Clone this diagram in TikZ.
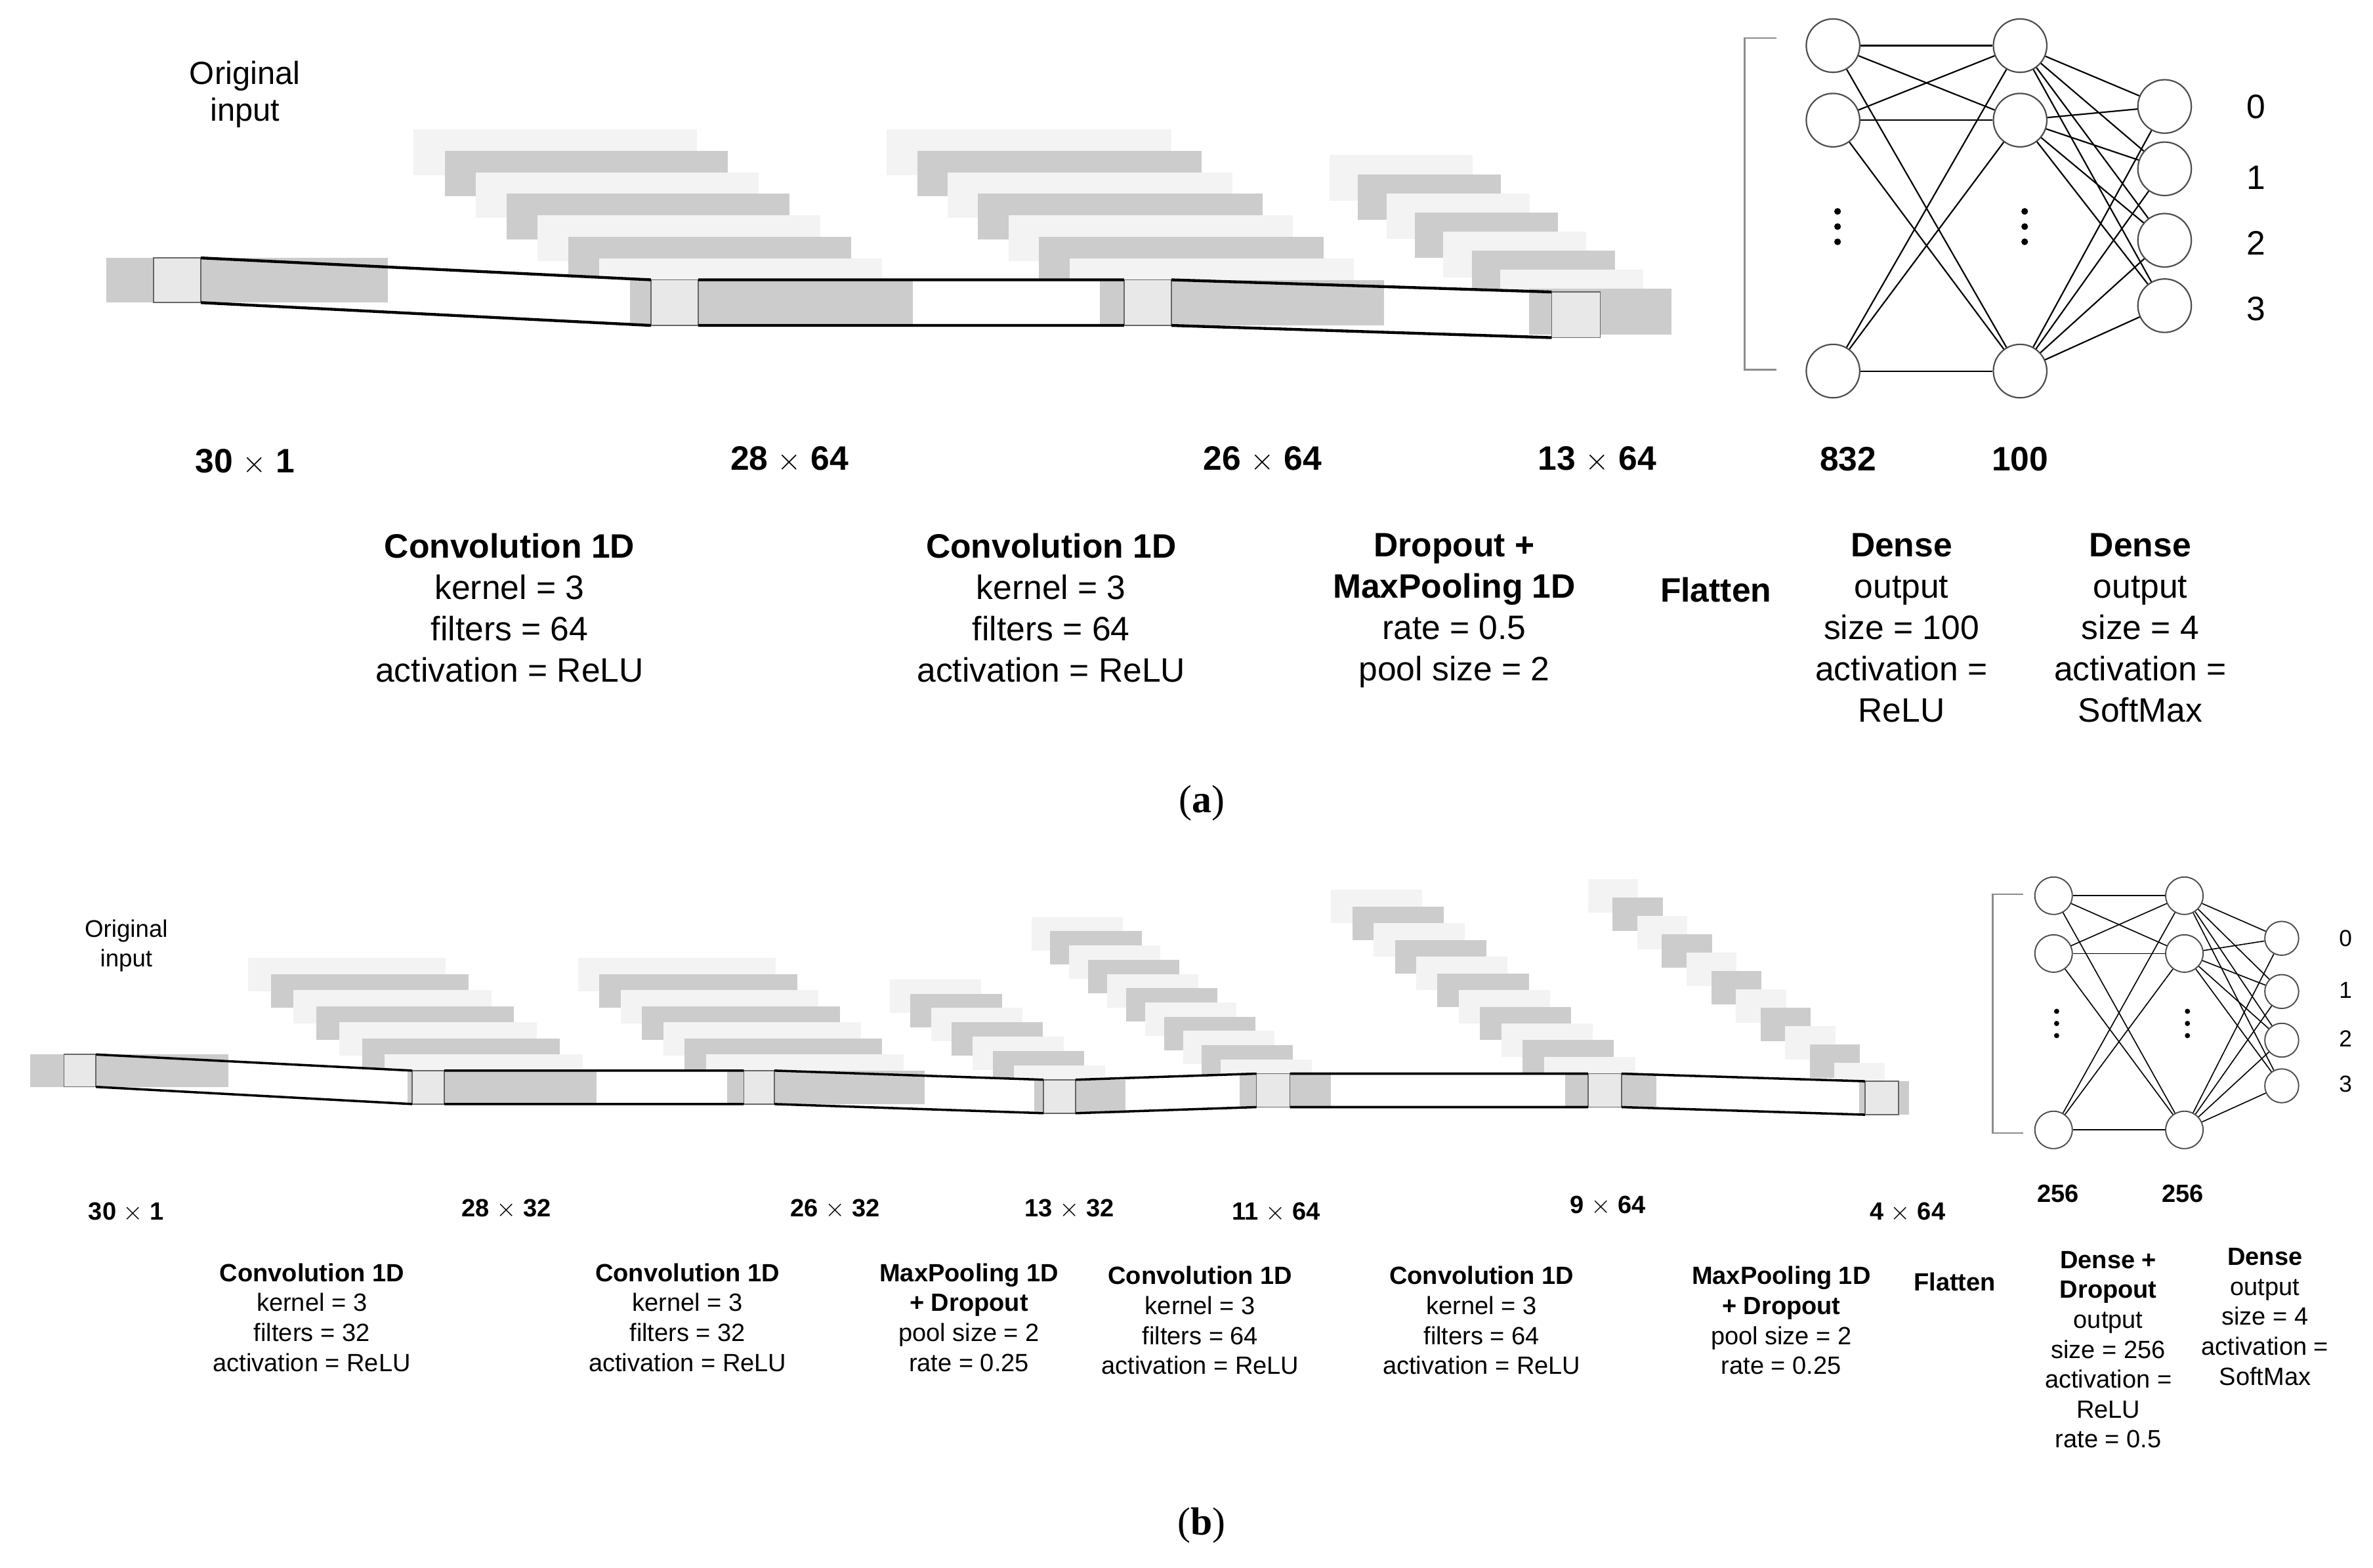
\documentclass[tikz,border=0pt]{standalone}
\usepackage{fontspec}
\setmainfont{Liberation Sans}
\newfontfamily\serifx{Liberation Serif}
\definecolor{lt}{HTML}{F3F3F3}
\definecolor{gr}{HTML}{CCCCCC}
\definecolor{col}{HTML}{E8E8E8}
\newcommand\mystack[7]{% x0 y0 x1 y1 w h n
  \pgfmathtruncatemacro\nn{#7-1}
  \foreach \i in {0,...,\nn}{
    \pgfmathsetmacro\xx{#1+(#3-#1)*\i/\nn}
    \pgfmathsetmacro\yy{#2+(#4-#2)*\i/\nn}
    \pgfmathtruncatemacro\odd{mod(\i,2)}
    \ifnum\odd=1 \fill[gr] (\xx,\yy) rectangle ++(#5,#6);
    \else \fill[lt] (\xx,\yy) rectangle ++(#5,#6); \fi
  }}
\begin{document}
\begin{tikzpicture}[x=0.03cm,y=-0.03cm,
  colm/.style={fill=col,draw=black!60,line width=0.6pt},
  ln/.style={line width=1.6pt},
  lnb/.style={line width=1.3pt},
  ta/.style={font=\fontsize{19}{23.2}\selectfont,align=center,inner sep=0,anchor=north},
  tb/.style={font=\fontsize{14}{16.8}\selectfont,align=center,inner sep=0,anchor=north},
  dima/.style={font=\fontsize{19}{22}\selectfont\bfseries,inner sep=0},
  dimb/.style={font=\fontsize{14}{16}\selectfont\bfseries,inner sep=0},
  neu/.style={circle,draw=black!70,line width=0.8pt,fill=white,minimum size=30,inner sep=0},
  neub/.style={circle,draw=black!70,line width=0.7pt,fill=white,minimum size=21,inner sep=0},
  edge/.style={line width=0.8pt},
  edgeb/.style={line width=0.6pt}]
\useasboundingbox (0,0) rectangle (1560,1031);
% ================= (a) =================
\mystack{272}{85}{414}{184}{186}{30}{8}
\mystack{583}{85}{723}{184}{187}{30}{8}
\mystack{874}{102}{1005}{190}{94}{30}{8}
\fill[white] (132,169.6)--(428,184)--(428,214)--(132,199)--cycle;
\fill[white] (459,184) rectangle (739,214);
\fill[white] (770,184)--(1020,192)--(1020,222)--(770,214)--cycle;
\fill[gr] (70,169.6) rectangle (255,199);
\fill[gr] (414,184) rectangle (600,214);
\fill[gr] (723,184) rectangle (910,214);
\fill[gr] (1005,190) rectangle (1099,220);
\draw[colm] (101,169.6) rectangle (132,199);
\draw[colm] (428,184) rectangle (459,214);
\draw[colm] (739,184) rectangle (770,214);
\draw[colm] (1020,192) rectangle (1052,222);
\draw[ln] (132,169.6)--(428,184) (132,199)--(428,214)
  (459,184)--(739,184) (459,214)--(739,214)
  (770,184)--(1020,192) (770,214)--(1020,222);
% NN (a)
\draw[black!45,line width=1pt] (1168,25)--(1147,25)--(1147,243)--(1168,243);
\foreach \n/\y in {1/30,2/79,3/244}{\node[neu] (a1\n) at (1205,\y) {}; \node[neu] (a2\n) at (1328,\y) {};}
\foreach \n/\y in {1/70,2/111,3/158,4/201}{\node[neu] (a3\n) at (1423,\y) {};}
\foreach \i in {1,2,3}{\foreach \j in {1,2,3}{\draw[edge] (a1\i)--(a2\j);}}
\foreach \i in {1,2,3}{\foreach \j in {1,2,3,4}{\draw[edge] (a2\i)--(a3\j);}}
\foreach \y in {139,149,159}{\fill (1208,\y) circle (2.2); \fill (1331,\y) circle (2.2);}
\foreach \t/\y in {0/70,1/117,2/160,3/203}{\node[font=\fontsize{19}{20}\selectfont,inner sep=0] (la\t) at (1483,\y) {\t};}
% labels (a)
\node[font=\fontsize{18}{20.5}\selectfont,align=center,inner sep=0] (oa) at (161,62) {Original\\input};
\node[dima] (d1) at (161,304) {30 $\times$ 1};
\node[dima] (d2) at (519,302) {28 $\times$ 64};
\node[dima] (d3) at (830,302) {26 $\times$ 64};
\node[dima] (d4) at (1050,302) {13 $\times$ 64};
\node[dima] (d5) at (1215,302) {832};
\node[dima] (d6) at (1328,302) {100};
\node[ta] (ca1) at (335,350.5) {\textbf{Convolution 1D}\\kernel = 3\\filters = 64\\activation = ReLU};
\node[ta] (ca2) at (691,350.5) {\textbf{Convolution 1D}\\kernel = 3\\filters = 64\\activation = ReLU};
\node[ta] (ca3) at (956,350.5) {\textbf{Dropout +}\\\textbf{MaxPooling 1D}\\rate = 0.5\\pool size = 2};
\node[dima] (fa) at (1128,388) {Flatten};
\node[ta] (ca4) at (1250,350.5) {\textbf{Dense}\\output\\size = 100\\activation =\\ReLU};
\node[ta] (ca5) at (1407,350.5) {\textbf{Dense}\\output\\size = 4\\activation =\\SoftMax};
\node[font=\fontsize{22}{24}\serifx,inner sep=0] (pa) at (790,528) {(\textbf{a})};
% ================= (b) =================
\mystack{163}{630}{268}{704}{130}{22}{8}
\mystack{380}{630}{478}{704}{130}{22}{8}
\mystack{585}{644}{680}{710}{60}{22}{8}
\mystack{678}{603}{815}{706}{60}{22}{12}
\mystack{875}{585}{1029}{706}{60}{22}{12}
\mystack{1044}{578}{1222}{711}{33}{22}{12}
\fill[white] (63,693.4)--(271,704)--(271,726)--(63,714.7)--cycle;
\fill[white] (292,704) rectangle (489,726);
\fill[white] (509,704)--(686,710)--(686,732)--(509,726)--cycle;
\fill[white] (707,710)--(826,706)--(826,728)--(707,732)--cycle;
\fill[white] (848,706) rectangle (1044,728);
\fill[white] (1066,706)--(1226,711)--(1226,733)--(1066,728)--cycle;
\fill[gr] (20,693.4) rectangle (150,714.7);
\fill[gr] (268,704) rectangle (392,726);
\fill[gr] (478,704) rectangle (608,726);
\fill[gr] (680,710) rectangle (740,732);
\fill[gr] (815,706) rectangle (875,728);
\fill[gr] (1029,706) rectangle (1089,728);
\fill[gr] (1222,711) rectangle (1255,733);
\draw[colm] (42,693.4) rectangle (63,714.7);
\draw[colm] (271,704) rectangle (292,726);
\draw[colm] (489,704) rectangle (509,726);
\draw[colm] (686,710) rectangle (707,732);
\draw[colm] (826,706) rectangle (848,728);
\draw[colm] (1044,706) rectangle (1066,728);
\draw[colm] (1226,711) rectangle (1248,733);
\draw[lnb] (63,693.4)--(271,704) (63,714.7)--(271,726)
  (292,704)--(489,704) (292,726)--(489,726)
  (509,704)--(686,710) (509,726)--(686,732)
  (707,710)--(826,706) (707,732)--(826,728)
  (848,706)--(1044,706) (848,728)--(1044,728)
  (1066,706)--(1226,711) (1066,728)--(1226,733);
% NN (b)
\draw[black!45,line width=0.8pt] (1330,588)--(1310,588)--(1310,745)--(1330,745);
\foreach \n/\y in {1/589,2/627,3/743}{\node[neub] (b1\n) at (1350,\y) {}; \node[neub] (b2\n) at (1436,\y) {};}
\foreach \n/\y in {1/617,2/652,3/684,4/714}{\node[neub,minimum size=19] (b3\n) at (1500,\y) {};}
\foreach \i in {1,2,3}{\foreach \j in {1,2,3}{\draw[edgeb] (b1\i)--(b2\j);}}
\foreach \i in {1,2,3}{\foreach \j in {1,2,3,4}{\draw[edgeb] (b2\i)--(b3\j);}}
\foreach \y in {665,673,681}{\fill (1352,\y) circle (1.7); \fill (1438,\y) circle (1.7);}
\foreach \t/\y in {0/617,1/651,2/683,3/713}{\node[font=\fontsize{13}{15}\selectfont,inner sep=0] (lb\t) at (1542,\y) {\t};}
% labels (b)
\node[font=\fontsize{13.5}{16.5}\selectfont,align=center,inner sep=0] (ob) at (83,622) {Original\\input};
\node[dimb] (e1) at (83,797) {30 $\times$ 1};
\node[dimb] (e2) at (333,795) {28 $\times$ 32};
\node[dimb] (e3) at (549,795) {26 $\times$ 32};
\node[dimb] (e4) at (703,795) {13 $\times$ 32};
\node[dimb] (e5) at (839,797) {11 $\times$ 64};
\node[dimb] (e6) at (1057,793) {9 $\times$ 64};
\node[dimb] (e7) at (1254,797) {4 $\times$ 64};
\node[dimb] (e8) at (1353,785) {256};
\node[dimb] (e9) at (1435,785) {256};
\node[tb] (cb1) at (205,830.5) {\textbf{Convolution 1D}\\kernel = 3\\filters = 32\\activation = ReLU};
\node[tb] (cb2) at (452,830.5) {\textbf{Convolution 1D}\\kernel = 3\\filters = 32\\activation = ReLU};
\node[tb] (cb3) at (637,830.5) {\textbf{MaxPooling 1D}\\\textbf{+ Dropout}\\pool size = 2\\rate = 0.25};
\node[tb] (cb4) at (789,832.5) {\textbf{Convolution 1D}\\kernel = 3\\filters = 64\\activation = ReLU};
\node[tb] (cb5) at (974,832.5) {\textbf{Convolution 1D}\\kernel = 3\\filters = 64\\activation = ReLU};
\node[tb] (cb6) at (1171,832.5) {\textbf{MaxPooling 1D}\\\textbf{+ Dropout}\\pool size = 2\\rate = 0.25};
\node[dimb] (fb) at (1285,843) {Flatten};
\node[tb] (cb7) at (1386,822.5) {\textbf{Dense +}\\\textbf{Dropout}\\output\\size = 256\\activation =\\ReLU\\rate = 0.5};
\node[tb] (cb8) at (1489,820.5) {\textbf{Dense}\\output\\size = 4\\activation =\\SoftMax};
\node[font=\fontsize{22}{24}\serifx,inner sep=0] (pb) at (790,1003) {(\textbf{b})};
\end{tikzpicture}
\end{document}
